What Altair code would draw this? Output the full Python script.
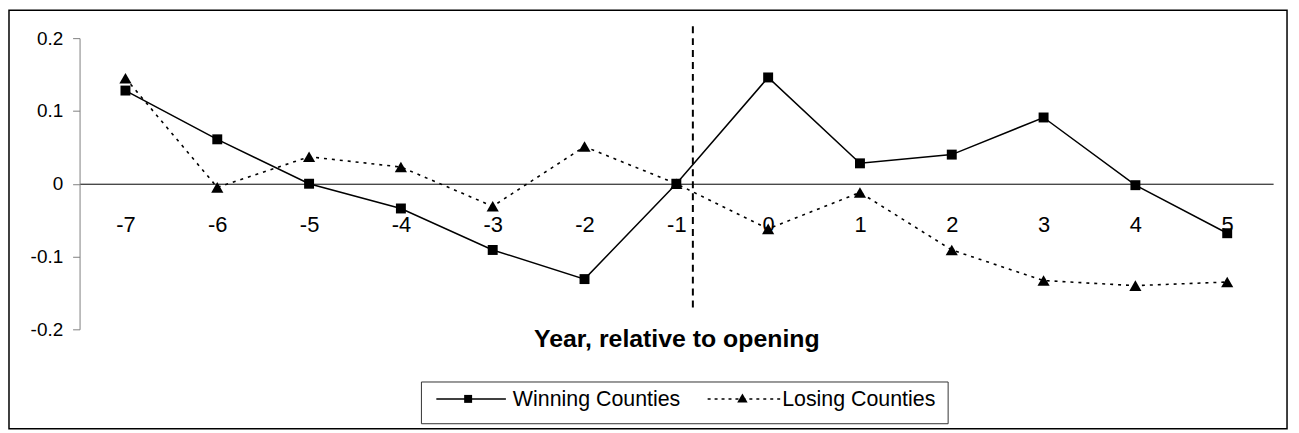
import altair as alt
import pandas as pd

# ---- data ----
years = list(range(-7, 6))
winning = [0.128, 0.061, 0.000, -0.034, -0.091, -0.131, 0.000, 0.146, 0.028, 0.040, 0.091, -0.002, -0.068]
losing = [0.145, -0.005, 0.037, 0.023, -0.031, 0.051, 0.000, -0.062, -0.012, -0.091, -0.133, -0.140, -0.135]
y_ticks = [-0.2, -0.1, 0.0, 0.1, 0.2]
opening_year = -0.82
series_names = ["Winning Counties", "Losing Counties"]
x_title = "Year, relative to opening"

FONT = "Liberation Sans"
W, H = 1201, 293
PAD = {"left": 72, "top": 29, "right": 18, "bottom": 103}

df_w = pd.DataFrame({"year": years, "value": winning})
df_l = pd.DataFrame({"year": years, "value": losing})
df_open = pd.DataFrame({"year": [opening_year]})
one = pd.DataFrame({"k": [0]})

xscale = alt.Scale(domain=[-7.5, 5.5], nice=False, zero=False)
yscale = alt.Scale(domain=[-0.2, 0.2], nice=False, zero=False)

xaxis = alt.Axis(
    values=years,
    labelExpr="datum.value < 0 ? '-' + format(-datum.value, 'd') : format(datum.value, 'd')",
    orient="bottom", offset=-146.5,
    domainColor="black", domainWidth=1,
    ticks=False, tickSize=0, grid=False,
    labelPadding=41, labelBaseline="middle", labelFontSize=22, labelFont=FONT,
    labelColor="black", labelFlush=False, labelOverlap=False,
    title=x_title, titleFont=FONT, titleFontSize=25, titleFontWeight="bold",
    titleColor="black", titleY=156, titleBaseline="middle",
)
yaxis = alt.Axis(
    values=y_ticks,
    labelExpr="datum.value < 0 ? '-' + format(-datum.value, '.1~f') : format(datum.value, '.1~f')",
    domainColor="#808080", domainWidth=1, tickColor="#808080", tickSize=7,
    grid=False, labelPadding=10, labelFontSize=19, labelFont=FONT, labelColor="black",
    labelFlush=False, labelOverlap=False, title=None,
)

X = alt.X("year:Q", scale=xscale, axis=xaxis, title=x_title)
Y = alt.Y("value:Q", scale=yscale, axis=yaxis, title=None)

losing_line = alt.Chart(df_l).mark_line(color="black", strokeWidth=1.6, strokeDash=[3, 5]).encode(x=X, y=Y)
losing_pts = alt.Chart(df_l).mark_point(shape="triangle-up", filled=True, size=150, color="black", opacity=1).encode(x=X, y=Y)
winning_line = alt.Chart(df_w).mark_line(color="black", strokeWidth=1.5).encode(x=X, y=Y)
winning_pts = alt.Chart(df_w).mark_point(shape="square", filled=True, size=100, color="black", opacity=1).encode(x=X, y=Y)

opening = alt.Chart(df_open).mark_rule(color="black", strokeWidth=2, strokeDash=[7, 5]).encode(
    x=X, y=alt.value(-12), y2=alt.value(275)
)

frame = alt.Chart(one).mark_rect(fillOpacity=0, stroke="black", strokeWidth=1.5).encode(
    x=alt.value(-71), x2=alt.value(1215), y=alt.value(-28), y2=alt.value(393)
)

# ---- legend ----
leg_box = alt.Chart(one).mark_rect(fillOpacity=0, stroke="#333333", strokeWidth=1).encode(
    x=alt.value(344), x2=alt.value(874), y=alt.value(346), y2=alt.value(388)
)
leg_line1 = alt.Chart(one).mark_rule(color="black", strokeWidth=1.5).encode(
    x=alt.value(359), x2=alt.value(429), y=alt.value(363)
)
leg_sq = alt.Chart(one).mark_point(shape="square", filled=True, size=64, color="black", opacity=1).encode(
    x=alt.value(391), y=alt.value(363)
)
leg_txt1 = alt.Chart(one).mark_text(align="left", baseline="middle", font=FONT, fontSize=21.5, color="black").encode(
    x=alt.value(436), y=alt.value(364), text=alt.value(series_names[0])
)
leg_line2 = alt.Chart(one).mark_rule(color="black", strokeWidth=1.5, strokeDash=[3, 4]).encode(
    x=alt.value(632), x2=alt.value(705), y=alt.value(363)
)
leg_tri = alt.Chart(one).mark_point(shape="triangle-up", filled=True, size=110, color="black", opacity=1).encode(
    x=alt.value(667), y=alt.value(362)
)
leg_txt2 = alt.Chart(one).mark_text(align="left", baseline="middle", font=FONT, fontSize=21.5, color="black").encode(
    x=alt.value(707), y=alt.value(364), text=alt.value(series_names[1])
)

chart = alt.layer(
    frame, opening, losing_line, losing_pts, winning_line, winning_pts,
    leg_box, leg_line1, leg_sq, leg_txt1, leg_line2, leg_tri, leg_txt2,
).properties(
    width=W, height=H, padding=PAD, autosize=alt.AutoSizeParams(type="none"),
    background="white",
).configure_view(stroke=None)

chart.save("out.html", embed_options={"renderer": "svg", "actions": False})
